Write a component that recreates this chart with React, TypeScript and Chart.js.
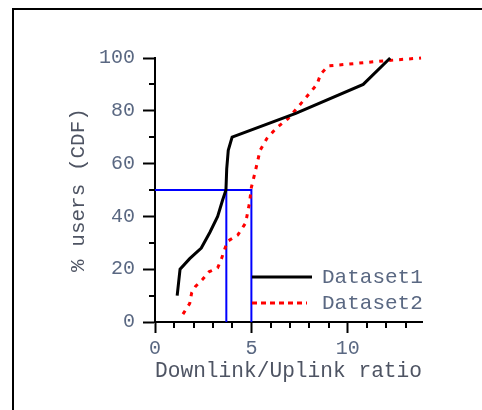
import React, { useEffect, useRef } from 'react';
import { Chart, registerables } from 'chart.js';

Chart.register(...registerables);

// ---- data ----
const dataset1Label = 'Dataset1';
const dataset2Label = 'Dataset2';
const dataset1X = [1.15, 1.3, 1.8, 2.4, 2.85, 3.25, 3.5, 3.68, 3.72, 3.8, 4.0, 7.3, 10.8, 12.2];
const dataset1Y = [10, 20, 24, 28, 34, 40, 46, 50, 58, 65, 70, 79, 90, 100];
const dataset2X = [1.45, 1.8, 1.9, 2.1, 2.45, 2.8, 3.25, 3.45, 3.75, 4.3, 4.7, 4.9, 5.0, 5.2, 5.45, 5.8, 6.3, 6.9, 7.6, 8.4, 8.6, 9.0, 12.0, 13.8];
const dataset2Y = [3, 7, 11, 13.5, 16, 19, 20.5, 24, 30.5, 33, 37.5, 45, 51, 57, 65, 69.5, 73.5, 77, 83, 90, 94, 97, 99, 100];
const medianLevel = 50;
const median1X = 3.7;
const median2X = 5;
const xMajorTicks = [0, 5, 10];
const xMinorTicks = [1, 2, 3, 4, 6, 7, 8, 9, 11, 12, 13];
const yMajorTicks = [0, 20, 40, 60, 80, 100];
const yMinorTicks = [10, 30, 50, 70, 90];
const xMin = 0;
const xMax = 13.85;
const yMin = 0;
const yMax = 100;
const xTitle = 'Downlink/Uplink ratio';
const yTitle = '% users (CDF)';

const FONT = "'Liberation Mono', 'Courier New', monospace";
const TICK_COLOR = '#5a6882';
const TITLE_COLOR = '#4e5463';

const toPoints = (xs: number[], ys: number[]) => xs.map((x, i) => ({ x, y: ys[i] }));

const minorTicksPlugin = {
  id: 'minorTicks',
  afterDraw(chart: any) {
    const { ctx, chartArea, scales } = chart;
    const xs = scales.x;
    const ys = scales.y;
    ctx.save();
    ctx.strokeStyle = '#000';
    ctx.lineWidth = 2;
    ctx.beginPath();
    xMinorTicks.forEach((v) => {
      const px = Math.round(xs.getPixelForValue(v));
      ctx.moveTo(px, chartArea.bottom);
      ctx.lineTo(px, chartArea.bottom + 6);
    });
    yMinorTicks.forEach((v) => {
      const py = Math.round(ys.getPixelForValue(v));
      ctx.moveTo(chartArea.left - 6, py);
      ctx.lineTo(chartArea.left, py);
    });
    ctx.stroke();
    ctx.restore();
  },
};

const legendPlugin = {
  id: 'innerLegend',
  afterDraw(chart: any) {
    const { ctx, chartArea } = chart;
    const x0 = chartArea.left + 97;
    const y1 = chartArea.top + 219;
    const y2 = chartArea.top + 245;
    ctx.save();
    ctx.lineCap = 'butt';
    ctx.strokeStyle = '#000';
    ctx.lineWidth = 3;
    ctx.setLineDash([]);
    ctx.beginPath();
    ctx.moveTo(x0, y1);
    ctx.lineTo(x0 + 60, y1);
    ctx.stroke();
    ctx.strokeStyle = '#ff0000';
    ctx.setLineDash([5, 4]);
    ctx.beginPath();
    ctx.moveTo(x0, y2);
    ctx.lineTo(x0 + 55, y2);
    ctx.stroke();
    ctx.setLineDash([]);
    ctx.fillStyle = TICK_COLOR;
    ctx.font = `21px ${FONT}`;
    ctx.textBaseline = 'middle';
    ctx.textAlign = 'left';
    ctx.fillText(dataset1Label, x0 + 70, y1);
    ctx.fillText(dataset2Label, x0 + 70, y2);
    ctx.restore();
  },
};

export default function App() {
  const canvasRef = useRef<HTMLCanvasElement | null>(null);

  useEffect(() => {
    if (!canvasRef.current) return;
    const chart = new Chart(canvasRef.current, {
      type: 'line',
      data: {
        datasets: [
          {
            label: dataset1Label,
            data: toPoints(dataset1X, dataset1Y),
            borderColor: '#000000',
            borderWidth: 3,
            pointRadius: 0,
            tension: 0,
            fill: false,
          },
          {
            label: dataset2Label,
            data: toPoints(dataset2X, dataset2Y),
            borderColor: '#ff0000',
            borderWidth: 3,
            borderDash: [4, 6],
            pointRadius: 0,
            tension: 0,
            fill: false,
          },
          {
            label: 'median2',
            data: [
              { x: xMin, y: medianLevel },
              { x: median2X, y: medianLevel },
              { x: median2X, y: yMin },
            ],
            borderColor: '#0000ff',
            borderWidth: 2,
            pointRadius: 0,
            tension: 0,
            fill: false,
          },
          {
            label: 'median1',
            data: [
              { x: median1X, y: medianLevel },
              { x: median1X, y: yMin },
            ],
            borderColor: '#0000ff',
            borderWidth: 2,
            pointRadius: 0,
            tension: 0,
            fill: false,
          },
        ],
      },
      options: {
        responsive: false,
        animation: false,
        clip: false as any,
        devicePixelRatio: 1,
        layout: { padding: { left: 0, top: 58, right: 60, bottom: 0 } },
        plugins: {
          legend: { display: false },
          tooltip: { enabled: false },
        },
        scales: {
          x: {
            type: 'linear',
            min: xMin,
            max: xMax,
            afterBuildTicks: (s: any) => {
              s.ticks = xMajorTicks.map((v) => ({ value: v }));
            },
            afterFit: (s: any) => {
              s.height = 88;
            },
            border: { display: true, color: '#000', width: 2 },
            grid: {
              drawOnChartArea: false,
              drawTicks: true,
              tickLength: 11,
              tickColor: '#000',
              tickWidth: 2,
            },
            ticks: {
              padding: 4,
              maxRotation: 0,
              color: TICK_COLOR,
              font: { family: FONT, size: 20 },
            },
            title: {
              display: true,
              text: xTitle,
              color: TITLE_COLOR,
              font: { family: FONT, size: 22 },
              padding: { top: 0, bottom: 26 },
            },
          },
          y: {
            type: 'linear',
            min: yMin,
            max: yMax,
            afterBuildTicks: (s: any) => {
              s.ticks = yMajorTicks.map((v) => ({ value: v }));
            },
            afterFit: (s: any) => {
              s.width = 155;
            },
            border: { display: true, color: '#000', width: 2 },
            grid: {
              drawOnChartArea: false,
              drawTicks: true,
              tickLength: 12,
              tickColor: '#000',
              tickWidth: 2,
            },
            ticks: {
              padding: 8,
              color: TICK_COLOR,
              font: { family: FONT, size: 20 },
            },
            title: {
              display: true,
              text: yTitle,
              color: TITLE_COLOR,
              font: { family: FONT, size: 21 },
              padding: { top: 66, bottom: 0 },
            },
          },
        },
      },
      plugins: [minorTicksPlugin, legendPlugin],
    } as any);
    return () => chart.destroy();
  }, []);

  return (
    <div style={{ position: 'fixed', left: 0, top: 0, width: 482, height: 410, background: '#fff' }}>
      <div
        style={{
          position: 'absolute',
          left: 12,
          top: 8,
          width: 470,
          height: 402,
          borderTop: '2px solid #000',
          borderLeft: '2px solid #000',
          boxSizing: 'border-box',
        }}
      />
      <canvas
        ref={canvasRef}
        width={482}
        height={410}
        style={{ position: 'absolute', left: 0, top: 0, width: 482, height: 410 }}
      />
    </div>
  );
}
